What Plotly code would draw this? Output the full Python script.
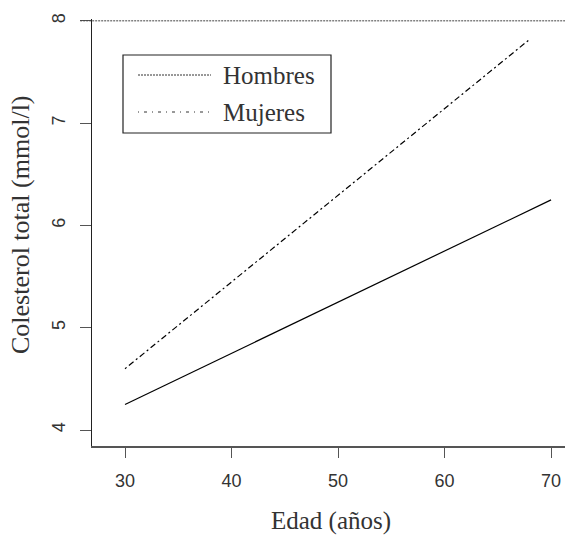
import plotly.graph_objects as go

# Data
edad = [30, 70]
hombres = [4.25, 6.25]
edad_m = [30, 68]
mujeres = [4.6, 7.82]
x_ticks = [30, 40, 50, 60, 70]
y_ticks = [4, 5, 6, 7, 8]
series_names = ["Hombres", "Mujeres"]

fig = go.Figure()
fig.add_trace(go.Scatter(x=edad, y=hombres, mode="lines", name=series_names[0],
                         line=dict(color="black", width=1.2), showlegend=False))
fig.add_trace(go.Scatter(x=edad_m, y=mujeres, mode="lines", name=series_names[1],
                         line=dict(color="black", width=1.2, dash="2px,3px,6px,3px"),
                         showlegend=False))

tickfont = dict(family="Liberation Sans", size=18, color="#333")
serif = dict(family="Liberation Serif", size=25, color="#333")

fig.update_layout(
    width=565, height=537,
    margin=dict(l=92, r=0, t=19, b=91, autoexpand=False),
    plot_bgcolor="white", paper_bgcolor="white",
    xaxis=dict(range=[26.9, 71.31], tickvals=x_ticks, ticks="outside", ticklen=10,
               tickcolor="#555", showgrid=False, zeroline=False, showline=True,
               linecolor="#555", linewidth=1.5, tickfont=tickfont,
               ticklabelstandoff=8, automargin=False),
    yaxis=dict(range=[3.844, 8.018], tickvals=y_ticks, ticks="outside", ticklen=11,
               tickcolor="#555", showgrid=False, zeroline=False, showline=True,
               linecolor="#222", linewidth=1.2, tickfont=tickfont, tickangle=-90,
               ticklabelstandoff=8, automargin=False),
    showlegend=False,
)

# Top dotted line at y = 8
fig.add_shape(type="line", xref="paper", yref="y", x0=-0.025, x1=1, y0=8, y1=8,
              line=dict(color="#444", width=1, dash="2px,1px"))

# Manual legend box (pixel -> paper conversion)
W, H, L, T = 473, 427, 92, 19
def px(x):
    return (x - L) / W
def py(y):
    return 1 - (y - T) / H

fig.add_shape(type="rect", xref="paper", yref="paper",
              x0=px(123), x1=px(331), y0=py(133), y1=py(55),
              line=dict(color="#222", width=1.2))
fig.add_shape(type="line", xref="paper", yref="paper",
              x0=px(138), x1=px(211), y0=py(75), y1=py(75),
              line=dict(color="#333", width=1, dash="2px,1px"))
fig.add_shape(type="line", xref="paper", yref="paper",
              x0=px(138), x1=px(211), y0=py(112), y1=py(112),
              line=dict(color="#333", width=1, dash="1px,5px,3px,5px"))
fig.add_annotation(text=series_names[0], xref="paper", yref="paper", x=px(221), y=py(75),
                   xanchor="left", yanchor="middle", showarrow=False,
                   font=dict(family="Liberation Serif", size=25, color="#333"))
fig.add_annotation(text=series_names[1], xref="paper", yref="paper", x=px(221), y=py(112),
                   xanchor="left", yanchor="middle", showarrow=False,
                   font=dict(family="Liberation Serif", size=25, color="#333"))

# Axis titles
fig.add_annotation(text="Edad (años)", xref="paper", yref="paper", x=px(331), y=py(521),
                   xanchor="center", yanchor="middle", showarrow=False, font=serif)
fig.add_annotation(text="Colesterol total (mmol/l)", xref="paper", yref="paper",
                   x=px(20), y=py(225), xanchor="center", yanchor="middle",
                   textangle=-90, showarrow=False,
                   font=dict(family="Liberation Serif", size=26, color="#333"))

fig.write_html("out.html", config={"displayModeBar": False},
               post_script="document.body.style.margin='0';document.body.style.overflow='hidden';")
